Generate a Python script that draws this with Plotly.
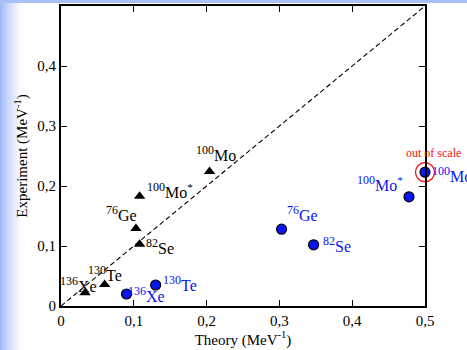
import plotly.graph_objects as go

# ---- data ----
nuclei_mass = ["136", "130", "82", "76", "100", "100"]
nuclei_sym = ["Xe", "Te", "Se", "Ge", "Mo", "Mo"]
nuclei_star = [False, False, False, False, True, False]

theory_a = [0.033, 0.060, 0.108, 0.103, 0.108, 0.204]      # black triangles
experiment_a = [0.022, 0.036, 0.103, 0.129, 0.183, 0.224]

theory_b = [0.090, 0.130, 0.347, 0.303, 0.478, 0.500]      # blue circles
experiment_b = [0.020, 0.035, 0.102, 0.128, 0.182, 0.223]

x_ticks = [0, 0.1, 0.2, 0.3, 0.4, 0.5]
x_ticktext = ["0", "0,1", "0,2", "0,3", "0,4", "0,5"]
y_ticks = [0, 0.1, 0.2, 0.3, 0.4]
y_ticktext = ["0", "0,1", "0,2", "0,3", "0,4"]

# label offsets in pixels (dx, dy up)
off_a = [(-7, 8), (0, 11), (20, -2), (-14, 15), (30, 6), (6, 18)]
off_b = [(20, 0), (24, 2), (23, 0), (21, 16), (-29, 13), (27, -2)]

W, H = 467, 350
L, R, T, B = 61, 42, 6, 44
PW, PH = W - L - R, H - T - B
FONT = "Liberation Serif"
BLUE = "#0a14f0"


def label(i):
    s = f"<sup><span style='font-size:12px'>{nuclei_mass[i]}</span></sup>{nuclei_sym[i]}"
    if nuclei_star[i]:
        s += "<sup>*</sup>"
    return s


fig = go.Figure()

# diagonal y = x
fig.add_trace(go.Scatter(x=[0, 0.5], y=[0, 0.5], mode="lines",
                         line=dict(color="black", width=1.1, dash="5px,3px"),
                         hoverinfo="skip", showlegend=False))

fig.add_trace(go.Scatter(x=theory_a, y=experiment_a, mode="markers",
                         marker=dict(symbol="triangle-up", size=10, color="black"),
                         showlegend=False, cliponaxis=False))

fig.add_trace(go.Scatter(x=theory_b, y=experiment_b, mode="markers",
                         marker=dict(symbol="circle", size=10, color=BLUE,
                                     line=dict(color="black", width=1.2)),
                         showlegend=False, cliponaxis=False))

# red "out of scale" ring around the last blue point
fig.add_trace(go.Scatter(x=[theory_b[-1]], y=[experiment_b[-1]], mode="markers",
                         marker=dict(symbol="circle-open", size=19, color="#ee1111",
                                     line=dict(width=1.3)),
                         showlegend=False, cliponaxis=False))

annotations = []
for i in range(len(theory_a)):
    dx, dy = off_a[i]
    annotations.append(dict(x=theory_a[i], y=experiment_a[i], xref="x", yref="y",
                            text=label(i), showarrow=False, xshift=dx, yshift=dy,
                            font=dict(family=FONT, size=16, color="black")))
for i in range(len(theory_b)):
    dx, dy = off_b[i]
    annotations.append(dict(x=theory_b[i], y=experiment_b[i], xref="x", yref="y",
                            text=label(i), showarrow=False, xshift=dx, yshift=dy,
                            font=dict(family=FONT, size=16, color=BLUE)))
annotations.append(dict(x=theory_b[-1], y=experiment_b[-1], xref="x", yref="y",
                        text="out of scale", showarrow=False, xshift=8, yshift=19,
                        font=dict(family=FONT, size=12, color="#ee1111")))

# background decoration (left gradient strip and top band)
shapes = []
def px_x(p):
    return (p - L) / PW
def px_y(p):
    return 1 - (p - T) / PH

c0 = (158, 184, 246)
for k in range(22):
    t = k / 21
    c = tuple(int(c0[j] + (255 - c0[j]) * (t ** 0.8)) for j in range(3))
    shapes.append(dict(type="rect", xref="paper", yref="paper",
                       x0=px_x(k), x1=px_x(k + 1), y0=px_y(H), y1=px_y(0),
                       fillcolor=f"rgb{c}", line=dict(width=0), layer="below"))
shapes.append(dict(type="rect", xref="paper", yref="paper",
                   x0=px_x(0), x1=px_x(W), y0=px_y(3), y1=px_y(0),
                   fillcolor="rgb(168,192,248)", line=dict(width=0), layer="below"))

axis_common = dict(showline=True, linecolor="black", linewidth=2, mirror="ticks",
                   ticks="inside", ticklen=6, tickwidth=1.2, tickcolor="black",
                   showgrid=False, zeroline=False,
                   tickfont=dict(family=FONT, size=15, color="black"))

fig.update_layout(
    width=W, height=H,
    margin=dict(l=L, r=R, t=T, b=B, autoexpand=False),
    paper_bgcolor="white", plot_bgcolor="white",
    font=dict(family=FONT),
    hovermode=False,
    xaxis=dict(range=[0, 0.5], tickvals=x_ticks, ticktext=x_ticktext,
               title=dict(text="Theory (MeV<sup>-1</sup>)", standoff=6,
                          font=dict(family=FONT, size=15, color="black")),
               **axis_common),
    yaxis=dict(range=[0, 0.5], tickvals=y_ticks, ticktext=y_ticktext,
               title=dict(text="Experiment (MeV<sup>-1</sup>)", standoff=6,
                          font=dict(family=FONT, size=15, color="black")),
               **axis_common),
    annotations=annotations,
    shapes=shapes,
)

fig.write_html("out.html", config={"displayModeBar": False},
               post_script="document.body.style.margin='0';document.body.style.padding='0';")
